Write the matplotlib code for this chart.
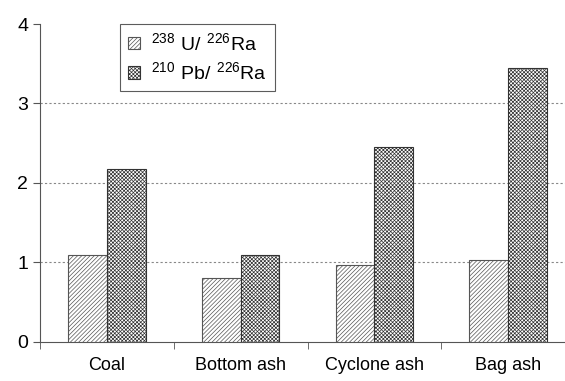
import matplotlib
matplotlib.use('Agg')
import matplotlib.pyplot as plt
import numpy as np

categories = ['Coal', 'Bottom ash', 'Cyclone ash', 'Bag ash']
u_ra = [1.10, 0.81, 0.97, 1.03]
pb_ra = [2.18, 1.09, 2.45, 3.45]
labels = [r'$\mathregular{^{238}\ U/\ ^{226}Ra}$', r'$\mathregular{^{210}\ Pb/\ ^{226}Ra}$']

plt.rcParams['font.family'] = ['Liberation Sans', 'DejaVu Sans']
plt.rcParams['mathtext.fontset'] = 'custom'
plt.rcParams['mathtext.rm'] = 'Liberation Sans'
plt.rcParams['hatch.linewidth'] = 0.5
plt.rcParams['hatch.color'] = '#555555'

fig = plt.figure(figsize=(5.65, 3.81), dpi=100)
ax = fig.add_axes([0.0708, 0.1024, 0.947, 0.8346])

x = np.arange(len(categories))
w = 0.29
ax.bar(x - w / 2, u_ra, w, color='white', edgecolor='#555555', linewidth=0.8,
       hatch='////////', label=labels[0], zorder=3)
ax.bar(x + w / 2, pb_ra, w, color='white', edgecolor='#333333', linewidth=0.8,
       hatch='xxxxxxxxx', label=labels[1], zorder=3)

ax.set_xlim(-0.5, 3.5)
ax.set_ylim(0, 4)
ax.set_yticks([0, 1, 2, 3, 4])
ax.set_xticks(x)
ax.set_xticklabels(categories)
ax.set_xticks(np.arange(-0.5, 4, 1), minor=True)
ax.tick_params(axis='x', which='major', length=0, pad=11, labelsize=13)
ax.tick_params(axis='x', which='minor', length=5, color='#555555')
ax.tick_params(axis='y', length=5, color='#555555', labelsize=14)
for yv in [1, 2, 3]:
    ax.axhline(yv, linestyle=(0, (2, 2)), color='#888888', linewidth=0.8, zorder=0)
ax.spines['top'].set_visible(False)
ax.spines['right'].set_visible(False)
ax.spines['left'].set_color('#555555')
ax.spines['bottom'].set_color('#555555')

leg = ax.legend(loc='upper left', bbox_to_anchor=(0.15, 1.0), borderaxespad=0,
                fontsize=14, frameon=True, fancybox=False, edgecolor='#333333',
                handlelength=0.6, handleheight=0.6, borderpad=0.4,
                labelspacing=0.4, handletextpad=0.6)
leg.get_frame().set_linewidth(0.8)

fig.savefig('out.png', dpi=100)
